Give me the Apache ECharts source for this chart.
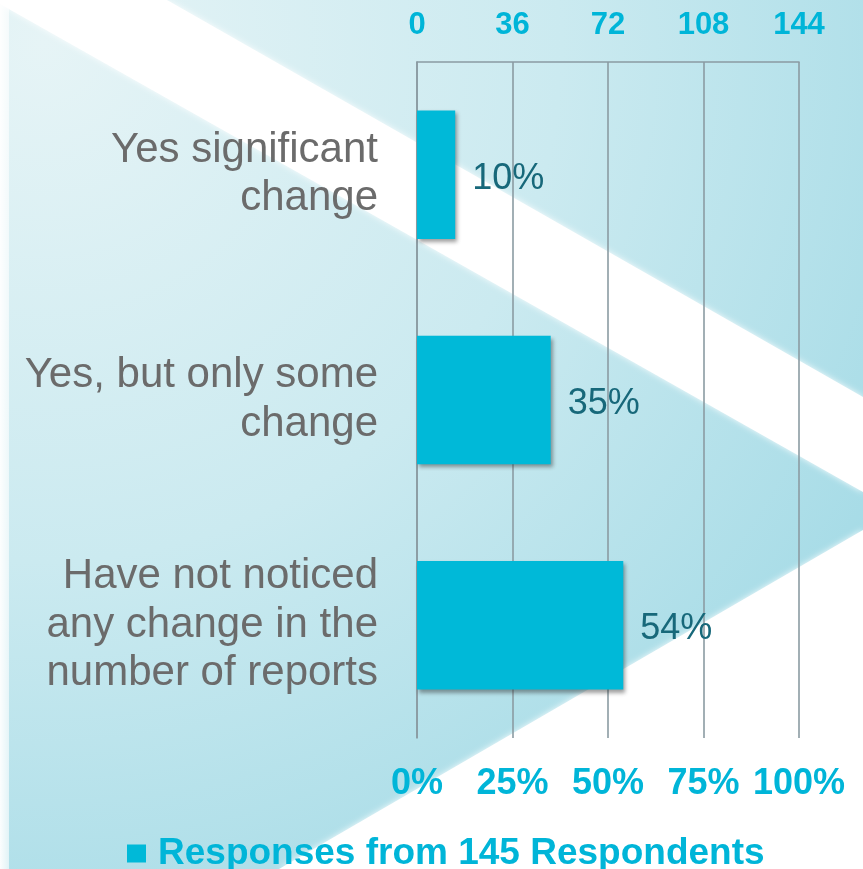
<!DOCTYPE html>
<html>
<head>
<meta charset="utf-8">
<script src="https://cdn.jsdelivr.net/npm/echarts@6/dist/echarts.min.js"></script>
<style>
  html, body { margin: 0; padding: 0; background: #ffffff; }
  #chart { width: 863px; height: 869px; }
</style>
</head>
<body>
<div id="chart"></div>
<script>
// Survey answers (top to bottom) and share of respondents in percent
var categories = [
  'Yes significant\nchange',
  'Yes, but only some\nchange',
  'Have not noticed\nany change in the\nnumber of reports'
];
var percentValues = [10, 35, 54];
var seriesName = 'Responses from 145 Respondents';

// Percent scale (bottom) and respondent-count scale (top)
var percentTicks = [0, 25, 50, 75, 100];
var countTicks = [0, 36, 72, 108, 144];

var FONT = '"Liberation Sans", Arial, Helvetica, sans-serif';
var CYAN = '#00b5d8';
var GRID_GRAY = '#8b9ba2';

var chart = echarts.init(document.getElementById('chart'), null, { renderer: 'canvas' });

var W = 863, H = 869;

var option = {
  animation: false,
  backgroundColor: '#ffffff',
  graphic: [
    {
      // soft cyan backdrop
      type: 'rect', z: -30, silent: true,
      shape: { x: 0, y: 0, width: W, height: H },
      style: {
        fill: {
          type: 'radial', x: 0.05, y: 0.05, r: 1.2,
          colorStops: [
            { offset: 0, color: '#e6f4f6' },
            { offset: 0.5, color: '#cbeaf0' },
            { offset: 1, color: '#a0d9e5' }
          ]
        }
      }
    },
    {
      // diagonal light band
      type: 'polygon', z: -29, silent: true,
      shape: { points: [[0, 0], [167, 0], [W, 397], [W, 492], [0, 4]] },
      style: { fill: '#ffffff', shadowBlur: 6, shadowColor: 'rgba(255,255,255,0.9)' }
    },
    {
      // white lower-right corner
      type: 'polygon', z: -29, silent: true,
      shape: { points: [[W, 530], [W, H], [279, H]] },
      style: { fill: '#ffffff', shadowBlur: 6, shadowColor: 'rgba(255,255,255,0.9)' }
    },
    {
      // pale strip on the left edge
      type: 'rect', z: -28, silent: true,
      shape: { x: 0, y: 0, width: 9, height: H },
      style: {
        fill: {
          type: 'linear', x: 0, y: 0, x2: 1, y2: 0,
          colorStops: [
            { offset: 0, color: 'rgba(255,255,255,0.95)' },
            { offset: 1, color: 'rgba(255,255,255,0.6)' }
          ]
        }
      }
    }
  ],
  legend: {
    data: [seriesName],
    left: 122,
    top: 830,
    icon: 'rect',
    itemWidth: 19,
    itemHeight: 18,
    textStyle: {
      color: CYAN, fontSize: 37, fontWeight: 'bold', fontFamily: FONT,
      padding: [0, 0, 0, 7]
    }
  },
  grid: {
    left: 417,
    right: 64,
    top: 62,
    bottom: 131,
    containLabel: false
  },
  xAxis: [
    {
      type: 'value',
      position: 'bottom',
      min: percentTicks[0],
      max: percentTicks[percentTicks.length - 1],
      interval: percentTicks[1] - percentTicks[0],
      axisLine: { show: false },
      axisTick: { show: false },
      splitLine: { show: true, lineStyle: { color: GRID_GRAY, width: 1.6 } },
      axisLabel: {
        margin: 28,
        color: CYAN, fontSize: 36, fontWeight: 'bold', fontFamily: FONT,
        formatter: '{value}%'
      }
    },
    {
      type: 'value',
      position: 'top',
      min: countTicks[0],
      max: countTicks[countTicks.length - 1],
      interval: countTicks[1] - countTicks[0],
      axisLine: { show: true, onZero: false, lineStyle: { color: GRID_GRAY, width: 1.6 } },
      axisTick: { show: false },
      splitLine: { show: false },
      axisLabel: {
        margin: 21,
        color: CYAN, fontSize: 31, fontWeight: 'bold', fontFamily: FONT
      }
    }
  ],
  yAxis: {
    type: 'category',
    inverse: true,
    data: categories,
    axisLine: { show: true, lineStyle: { color: GRID_GRAY, width: 1.6 } },
    axisTick: { show: false },
    splitLine: { show: false },
    axisLabel: {
      margin: 39,
      color: '#6b6b6b', fontSize: 42, lineHeight: 48.5, fontFamily: FONT,
      align: 'right'
    }
  },
  series: [
    {
      name: seriesName,
      type: 'bar',
      xAxisIndex: 0,
      data: percentValues,
      barWidth: '57%',
      itemStyle: {
        color: '#00b9d8',
        shadowColor: 'rgba(40,40,40,0.45)',
        shadowBlur: 4,
        shadowOffsetX: 2,
        shadowOffsetY: 3
      },
      label: {
        show: true,
        position: 'right',
        distance: 17,
        offset: [0, 4],
        formatter: '{c}%',
        color: '#17687a', fontSize: 36, fontFamily: FONT
      }
    }
  ]
};

chart.setOption(option);
</script>
</body>
</html>
